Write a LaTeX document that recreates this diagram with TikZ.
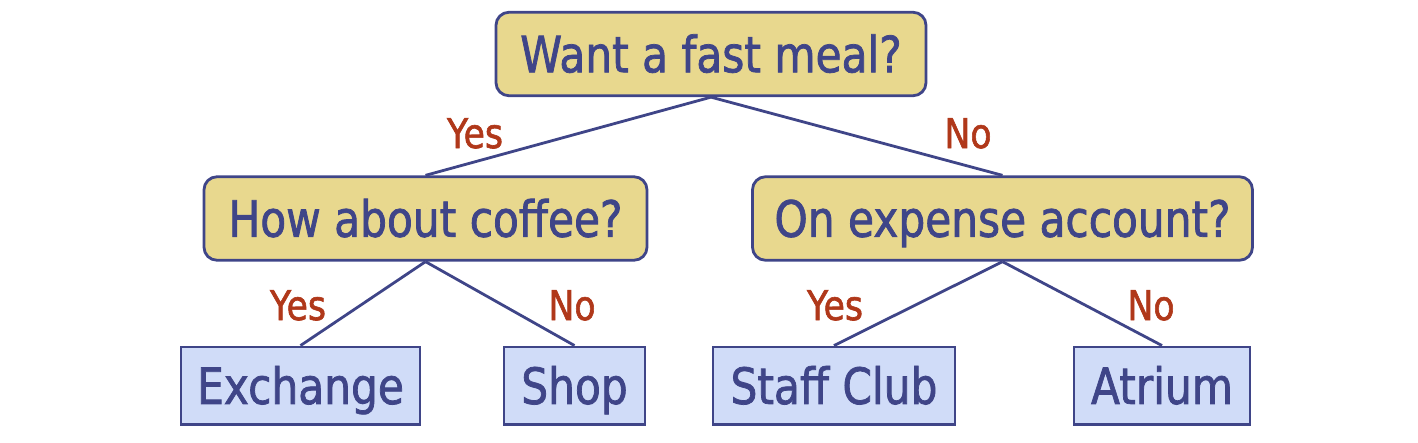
\documentclass[tikz,border=0pt]{standalone}
\usepackage{fontspec}
\setmainfont{DejaVu Sans}[FakeStretch=0.846, FakeBold=1.5]
\definecolor{navy}{HTML}{3F4588}
\definecolor{qfill}{HTML}{E8D88E}
\definecolor{lfill}{HTML}{D0DCF8}
\definecolor{ansred}{HTML}{B0381A}
\begin{document}
\begin{tikzpicture}[x=1pt,y=-1pt,
  question/.style={draw=navy, line width=2.8pt, fill=qfill, rounded corners=13pt,
    inner sep=0pt, minimum height=83.5pt, text=navy,
    font=\fontsize{50}{60}\selectfont, text height=36.5pt, text depth=0pt},
  leaf/.style={draw=navy, line width=2.8pt, fill=lfill,
    inner sep=0pt, minimum height=77.5pt, text=navy,
    font=\fontsize{50}{60}\selectfont, text height=36.5pt, text depth=0pt},
  edge/.style={draw=navy, line width=2.8pt},
  answer/.style={text=ansred, inner sep=0pt, font=\fontsize{41}{48}\selectfont,
    text height=30pt, text depth=0pt}]
\useasboundingbox (0,0) rectangle (1418,442);
\node[question, minimum width=430pt] (root) at (711,54) {Want a fast meal?};
\node[question, minimum width=443pt] (coffee) at (425.5,218.5) {How about coffee?};
\node[question, minimum width=500pt] (expense) at (1002.5,218.5) {On expense account?};
\node[leaf, minimum width=239pt] (exchange) at (300.5,385.7) {Exchange};
\node[leaf, minimum width=141pt] (shop) at (574.5,385.7) {Shop};
\node[leaf, minimum width=242pt] (staff) at (834,385.7) {Staff Club};
\node[leaf, minimum width=176pt] (atrium) at (1162,385.7) {Atrium};
\draw[edge] (root.south) -- (coffee.north);
\draw[edge] (root.south) -- (expense.north);
\draw[edge] (coffee.south) -- (exchange.north);
\draw[edge] (coffee.south) -- (shop.north);
\draw[edge] (expense.south) -- (staff.north);
\draw[edge] (expense.south) -- (atrium.north);
\node[answer] (y1) at (475,133) {Yes};
\node[answer] (n1) at (968,133) {No};
\node[answer] (y2) at (298,305) {Yes};
\node[answer] (n2) at (572,305) {No};
\node[answer] (y3) at (835,305) {Yes};
\node[answer] (n3) at (1151,305) {No};
\end{tikzpicture}
\end{document}
